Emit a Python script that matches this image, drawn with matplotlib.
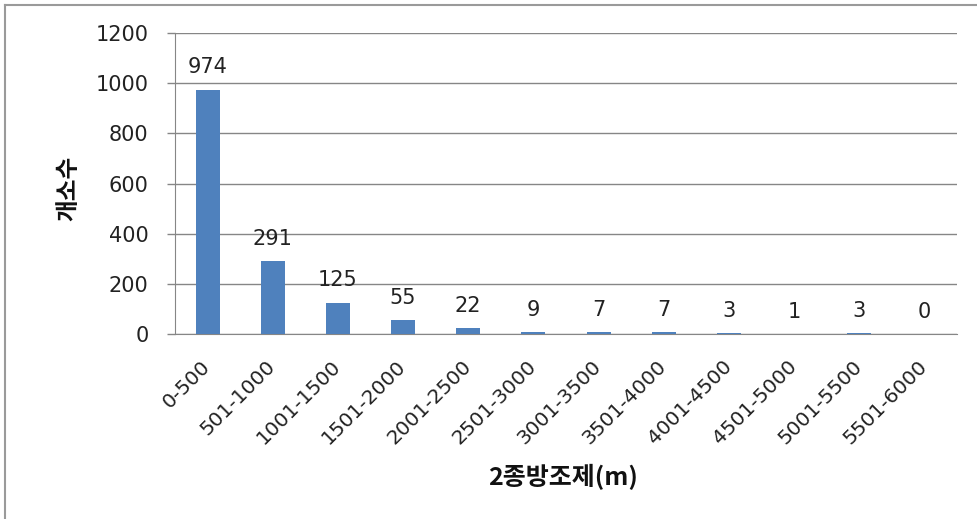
import matplotlib.pyplot as plt
from matplotlib.lines import Line2D

plt.rcParams['font.family'] = ['DejaVu Sans', 'Noto Sans CJK KR']

# distance classes and number of sites
ranges = ['0-500', '501-1000', '1001-1500', '1501-2000', '2001-2500', '2501-3000',
          '3001-3500', '3501-4000', '4001-4500', '4501-5000', '5001-5500', '5501-6000']
counts = [974, 291, 125, 55, 22, 9, 7, 7, 3, 1, 3, 0]
yticks = [0, 200, 400, 600, 800, 1000, 1200]

fig = plt.figure(figsize=(9.78, 5.19), dpi=100)
ax = fig.add_axes([175 / 978, 1 - 334 / 519, 782 / 978, 301 / 519])

x = range(len(counts))
ax.bar(x, counts, width=0.37, color='#4F81BD', zorder=3)

ax.set_xlim(-0.5, len(counts) - 0.5)
ax.set_ylim(0, 1200)
ax.set_yticks(yticks)
ax.set_xticks(list(x))
ax.set_xticklabels(ranges, rotation=45, ha='right', va='center', rotation_mode='anchor',
                   fontsize=14.5, color='#222222')
ax.tick_params(axis='x', length=0, pad=21)
ax.tick_params(axis='y', length=6, width=1, color='#868686', labelsize=15, labelcolor='#222222', pad=13)

ax.grid(axis='y', color='#868686', linewidth=1, zorder=0)
for side in ['top', 'right']:
    ax.spines[side].set_visible(False)
ax.spines['left'].set_color('#868686')
ax.spines['bottom'].set_color('#868686')

# value labels sit above each bar
for xi, v in zip(x, counts):
    ax.annotate(str(v), (xi, v), xytext=(0, 16), textcoords='offset points',
                ha='center', va='center', fontsize=15, color='#222222')

fig.text(68 / 978, 1 - 188 / 519, '개소수', rotation=90, ha='center', va='center',
         fontsize=17, fontweight='bold', color='#111111', family='Noto Sans CJK KR')
fig.text(563 / 978, 1 - 477 / 519, '2종방조제(m)', ha='center', va='center',
         fontsize=18, fontweight='bold', color='#111111', family='Noto Sans CJK KR')

# outer chart frame (left and top edges)
fig.add_artist(Line2D([5 / 978, 5 / 978], [0, 1 - 5 / 519], transform=fig.transFigure, color='#9a9a9a', linewidth=1.5))
fig.add_artist(Line2D([5 / 978, 1], [1 - 5 / 519, 1 - 5 / 519], transform=fig.transFigure, color='#9a9a9a', linewidth=1.5))

fig.savefig('out.png', dpi=100)
